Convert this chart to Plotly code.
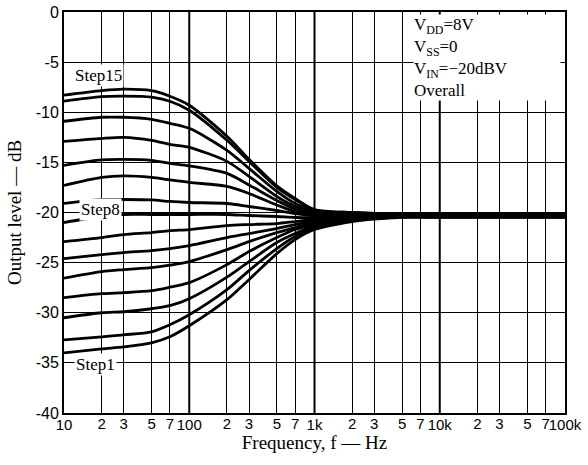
import math
import plotly.graph_objects as go

# frequencies (Hz) at which the curves were read
FREQ = [10, 20, 30, 50, 70, 100, 200, 300, 500, 700, 1000, 2000, 3000, 5000, 10000, 100000]

# output level (dB) for Step1 .. Step15
STEP1 = [-34.0, -33.6, -33.4, -33.0, -32.4, -31.3, -28.7, -26.7, -24.1, -22.7, -21.7, -20.9, -20.65, -20.48, -20.48, -20.48]
STEP2 = [-32.7, -32.4, -32.2, -31.9, -31.2, -30.2, -27.7, -25.8, -23.6, -22.4, -21.55, -20.8, -20.6, -20.46, -20.46, -20.46]
STEP3 = [-30.5, -30.0, -29.9, -29.6, -29.3, -28.6, -26.45, -24.9, -23.0, -22.1, -21.35, -20.75, -20.55, -20.44, -20.44, -20.44]
STEP4 = [-28.5, -28.1, -28.0, -27.8, -27.45, -27.0, -25.2, -23.9, -22.5, -21.7, -21.2, -20.65, -20.5, -20.42, -20.42, -20.42]
STEP5 = [-26.55, -25.9, -25.7, -25.5, -25.25, -24.9, -23.7, -22.9, -22.0, -21.5, -21.0, -20.6, -20.47, -20.4, -20.4, -20.4]
STEP6 = [-24.6, -24.2, -24.0, -23.8, -23.6, -23.3, -22.5, -22.1, -21.6, -21.2, -20.85, -20.5, -20.43, -20.38, -20.38, -20.38]
STEP7 = [-22.9, -22.5, -22.2, -22.0, -21.8, -21.7, -21.3, -21.2, -21.1, -20.9, -20.7, -20.45, -20.4, -20.36, -20.36, -20.36]
STEP8 = [-21.0, -20.4, -20.2, -20.2, -20.2, -20.2, -20.2, -20.3, -20.4, -20.5, -20.5, -20.4, -20.35, -20.33, -20.34, -20.34]
STEP9 = [-19.1, -18.7, -18.7, -18.75, -18.9, -19.0, -19.1, -19.4, -19.8, -20.1, -20.3, -20.25, -20.26, -20.28, -20.32, -20.32]
STEP10 = [-17.3, -16.5, -16.35, -16.5, -16.75, -17.0, -17.4, -18.1, -19.25, -19.9, -20.15, -20.2, -20.22, -20.26, -20.3, -20.3]
STEP11 = [-15.3, -14.75, -14.7, -14.8, -15.1, -15.35, -16.1, -17.25, -18.8, -19.65, -20.05, -20.15, -20.18, -20.24, -20.28, -20.28]
STEP12 = [-12.9, -12.6, -12.5, -12.8, -13.2, -13.5, -14.9, -16.4, -18.4, -19.4, -19.95, -20.1, -20.15, -20.22, -20.26, -20.26]
STEP13 = [-10.9, -10.5, -10.5, -10.7, -11.1, -11.6, -13.8, -15.6, -17.9, -19.1, -19.85, -20.05, -20.12, -20.2, -20.24, -20.24]
STEP14 = [-8.9, -8.45, -8.4, -8.5, -8.9, -9.8, -12.8, -14.9, -17.5, -18.7, -19.75, -20.0, -20.1, -20.17, -20.22, -20.22]
STEP15 = [-8.3, -7.85, -7.7, -7.85, -8.4, -9.3, -12.4, -14.7, -17.35, -18.6, -19.7, -20.0, -20.1, -20.15, -20.2, -20.2]

STEPS = [STEP1, STEP2, STEP3, STEP4, STEP5, STEP6, STEP7, STEP8,
         STEP9, STEP10, STEP11, STEP12, STEP13, STEP14, STEP15]

# axis ticks: in-decade ticks on the main axis, decade labels (set a bit lower) on an overlay
X_TICKVALS = [20, 30, 50, 70, 200, 300, 500, 700, 2000, 3000, 5000, 7000,
              20000, 30000, 50000, 70000]
X_TICKTEXT = ["2", "3", "5", "7", "2", "3", "5", "7", "2", "3", "5", "7",
              "2", "3", "5", "7"]
DECADE_VALS = [10, 100, 1000, 10000, 100000]
DECADE_TEXT = ["10", "100", "1k", "10k", "100k"]
DECADES = [100, 1000, 10000]
Y_TICKVALS = [0, -5, -10, -15, -20, -25, -30, -35, -40]
Y_TICKTEXT = ["0", "-5", "-10", "-15", "-20", "-25", "-30", "-35", "-40"]

# curve labels
LABELS = ["Step15", "Step8", "Step1"]
LABEL_X = [19, 19.4, 18]
LABEL_Y = [-6.3, -19.7, -35.2]

SANS = "Liberation Sans, Arial, sans-serif"
SERIF = "Liberation Serif, Times New Roman, serif"

fig = go.Figure()

for i, ys in enumerate(STEPS):
    fig.add_trace(go.Scatter(
        x=FREQ, y=ys,
        mode="lines",
        line=dict(color="black", width=2.8, shape="spline", smoothing=0.8),
        name=f"Step{i + 1}",
        showlegend=False,
        hoverinfo="skip",
    ))

# empty carrier trace so the decade-label axis gets drawn
fig.add_trace(go.Scatter(
    x=DECADE_VALS, y=[None] * len(DECADE_VALS), xaxis="x2", yaxis="y",
    mode="markers", showlegend=False, hoverinfo="skip",
))

for d in DECADES:
    fig.add_vline(x=d, line=dict(color="black", width=2), layer="below")

# annotations on a log axis take log10 positions
for txt, lx, ly in zip(LABELS, LABEL_X, LABEL_Y):
    fig.add_annotation(
        x=math.log10(lx), y=ly, xref="x", yref="y", text=txt, showarrow=False,
        font=dict(family=SERIF, size=17, color="black"),
        bgcolor="white", borderpad=1,
    )

fig.add_annotation(
    x=0.697, y=0.995, xref="paper", yref="paper", xanchor="left", yanchor="top",
    text="V<sub>DD</sub>=8V<br>V<sub>SS</sub>=0<br>V<sub>IN</sub>=−20dBV<br>Overall",
    align="left", showarrow=False, width=146,
    font=dict(family=SERIF, size=17, color="black"),
    bgcolor="white", borderpad=0,
)

fig.update_layout(
    width=588, height=465,
    margin=dict(l=64, r=23, t=12, b=52),
    plot_bgcolor="white",
    paper_bgcolor="white",
    showlegend=False,
    xaxis=dict(
        type="log", range=[1, 5], automargin=False,
        tickmode="array", tickvals=X_TICKVALS, ticktext=X_TICKTEXT, tickangle=0,
        tickfont=dict(family=SANS, size=15, color="black"),
        ticklabelstandoff=-4,
        showgrid=True, gridcolor="black", gridwidth=1,
        showline=True, linecolor="black", linewidth=2, mirror=True,
        ticks="", zeroline=False,
        title=dict(text="Frequency, f — Hz", font=dict(family=SERIF, size=19, color="black"), standoff=2),
    ),
    xaxis2=dict(
        type="log", range=[1, 5], automargin=False,
        overlaying="x", side="bottom", anchor="y",
        tickmode="array", tickvals=DECADE_VALS, ticktext=DECADE_TEXT, tickangle=0,
        tickfont=dict(family=SANS, size=15, color="black"),
        ticklabelstandoff=1,
        showgrid=False, showline=False, ticks="", zeroline=False,
    ),
    yaxis=dict(
        range=[-40, 0], automargin=False,
        tickvals=Y_TICKVALS, ticktext=Y_TICKTEXT,
        tickfont=dict(family=SANS, size=16, color="black"),
        showgrid=True, gridcolor="black", gridwidth=1,
        showline=True, linecolor="black", linewidth=2, mirror=True,
        ticks="", zeroline=False,
        title=dict(text="Output level — dB", font=dict(family=SERIF, size=19, color="black"), standoff=9),
    ),
)

# drop the browser's default body margin so the figure sits at the window's corner
fig.write_html("out.html", config={"displayModeBar": False},
               post_script="document.body.style.margin='0';")
